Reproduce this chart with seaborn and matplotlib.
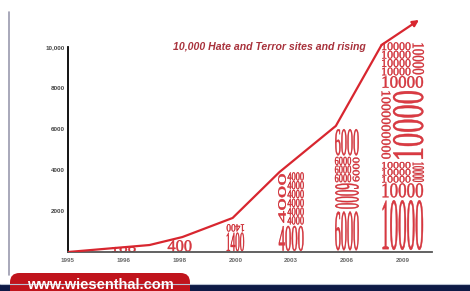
import matplotlib
matplotlib.use("Agg")
import matplotlib.pyplot as plt
from matplotlib.font_manager import FontProperties
from matplotlib.lines import Line2D
from matplotlib.patches import FancyBboxPatch, PathPatch, Rectangle
from matplotlib.textpath import TextPath
from matplotlib.transforms import Affine2D
import pandas as pd
import seaborn as sns

# data
years = ["1995", "1996", "1998", "2000", "2003", "2006", "2009"]
y_ticks = [2000, 4000, 6000, 8000, 10000]
y_tick_labels = ["2000", "4000", "6000", "8000", "10,000"]

# red trend curve (x in category units)
curve_x = [0, 1.46, 2.05, 2.95, 3.79, 4.80, 5.62]
curve_y = [0, 340, 730, 1660, 3900, 6150, 10100]
arrow_x, arrow_y = 6.29, 11320

# typographic columns of numbers
col_text = ["100", "400", "1400", "4000", "6000", "10000"]
col_pos = [1, 2, 3, 4, 5, 6]
col_top = [250, 600, 1370, 3900, 6050, 10240]
col_width = [0.45, 0.45, 0.33, 0.47, 0.45, 0.77]

title = "10,000 Hate and Terror sites and rising"
site = "www.wiesenthal.com"

RED = "#d8262f"
DARK_RED = "#c41820"
NAVY = "#0e1a46"

# how each column is built up: (y0, y1, [(x0, x1, text, rotation, rows)])
layouts = {
    "100": [(0, 1, [(0, 1, "100", 0, 1)])],
    "400": [(0, 1, [(0, 1, "400", 0, 1)])],
    "1400": [(0, 0.72, [(0, 1, "1400", 0, 1)]),
             (0.72, 1, [(0, 1, "1400", 180, 1)])],
    "4000": [(0, 0.34, [(0, 1, "4000", 0, 1)]),
             (0.34, 1, [(0, 0.3, "4000", 90, 1), (0.34, 1, "4000", 0, 6)])],
    "6000": [(0, 0.34, [(0, 1, "6000", 0, 1)]),
             (0.34, 0.56, [(0, 1, "6000", -90, 1)]),
             (0.56, 0.77, [(0, 0.68, "6000", 0, 3), (0.72, 1, "6000", 90, 1)]),
             (0.77, 1, [(0, 1, "6000", 0, 1)])],
    "10000": [(0, 0.257, [(0, 1, "10000", 0, 1)]),
              (0.257, 0.33, [(0, 1, "10000", 0, 1)]),
              (0.33, 0.43, [(0, 0.7, "10000", 0, 3), (0.72, 1, "10000", -90, 1)]),
              (0.43, 0.78, [(0, 0.22, "1000000000", -90, 1), (0.25, 1, "10000", 90, 1)]),
              (0.78, 0.84, [(0, 1, "10000", 0, 1)]),
              (0.84, 1, [(0, 0.7, "10000", 0, 4), (0.72, 1, "10000", -90, 1)])],
}

serif = FontProperties(family="Liberation Serif")


def glyph_box(ax, s, x0, x1, y0, y1, rot=0):
    p = TextPath((0, 0), s, size=10, prop=serif)
    p = Affine2D().rotate_deg(rot).transform_path(p)
    bb = p.get_extents()
    px = (x1 - x0) * 0.03
    py = (y1 - y0) * 0.04
    tr = (Affine2D().translate(-bb.x0, -bb.y0)
          .scale((x1 - x0 - 2 * px) / bb.width, (y1 - y0 - 2 * py) / bb.height)
          .translate(x0 + px, y0 + py))
    ax.add_patch(PathPatch(tr.transform_path(p), fc=RED, ec=DARK_RED, lw=0.3, alpha=0.9, zorder=2))


sns.set_style("white")
plt.rcParams["font.family"] = ["Liberation Sans", "DejaVu Sans"]

fig = plt.figure(figsize=(4.7, 2.91), dpi=100)
ax = fig.add_axes([68 / 470, 39 / 291, 402 / 470, 252 / 291])

# number columns
for txt, pos, top, w in zip(col_text, col_pos, col_top, col_width):
    left = pos - w / 2
    for b0, b1, items in layouts[txt]:
        for x0, x1, s, rot, n in items:
            h = (b1 - b0) * top / n
            for r in range(n):
                glyph_box(ax, s, left + x0 * w, left + x1 * w,
                          b0 * top + r * h, b0 * top + (r + 1) * h, rot)

# trend curve
df = pd.DataFrame({"x": curve_x, "y": curve_y})
sns.lineplot(data=df, x="x", y="y", color=RED, linewidth=1.6, sort=False, ax=ax, zorder=3)
ax.annotate("", xy=(arrow_x, arrow_y), xytext=(curve_x[-1], curve_y[-1]),
            arrowprops=dict(arrowstyle="-|>", color=RED, lw=1.6, mutation_scale=9,
                            shrinkA=0, shrinkB=0), zorder=3)

fig.text(173 / 470, 1 - 47 / 291, title, color="#a8323c", fontsize=7.6, fontweight="bold",
         fontstyle="italic", va="center", ha="left")

ax.set_xlim(0, 402 / 55.8)
ax.set_ylim(0, 252 / 20.5 * 1000)
ax.set_xticks(range(len(years)), years)
ax.set_yticks(y_ticks, y_tick_labels)
ax.set_xlabel("")
ax.set_ylabel("")
ax.tick_params(axis="x", length=0, pad=4, labelsize=4.5, labelcolor="#666666")
ax.tick_params(axis="y", direction="in", length=3.5, width=1.3, pad=2, labelsize=4.5,
               labelcolor="#444444", color="black")
for lab in ax.get_xticklabels() + ax.get_yticklabels():
    lab.set_fontweight("bold")

for side in ["top", "right"]:
    ax.spines[side].set_visible(False)
ax.spines["left"].set_bounds(0, 10000)
ax.spines["left"].set_linewidth(1.3)
ax.spines["left"].set_color("black")
ax.spines["bottom"].set_bounds(0, 6.52)
ax.spines["bottom"].set_linewidth(1.3)
ax.spines["bottom"].set_color("#555555")
ax.patch.set_visible(False)

# frame pieces of the infographic
fig.add_artist(Line2D([9 / 470, 9 / 470], [16 / 291, 279 / 291], color="#9a9aae", lw=1.2))
fig.add_artist(Rectangle((0, 0), 1, 7 / 291, transform=fig.transFigure, color=NAVY, lw=0))
fig.add_artist(Line2D([0, 1], [7.5 / 291, 7.5 / 291], color="#b8c0d0", lw=0.8))
fig.add_artist(FancyBboxPatch((10 / 470, -10 / 291), 180 / 470, 28 / 291,
                              boxstyle="round,pad=0,rounding_size=0.02",
                              transform=fig.transFigure, fc="#c0141c", ec="none",
                              mutation_aspect=470 / 291))
fig.text(27 / 470, 2 / 291, site, color="white", fontsize=10.5, fontweight="bold",
         ha="left", va="baseline")

fig.savefig("out.png", dpi=100)
